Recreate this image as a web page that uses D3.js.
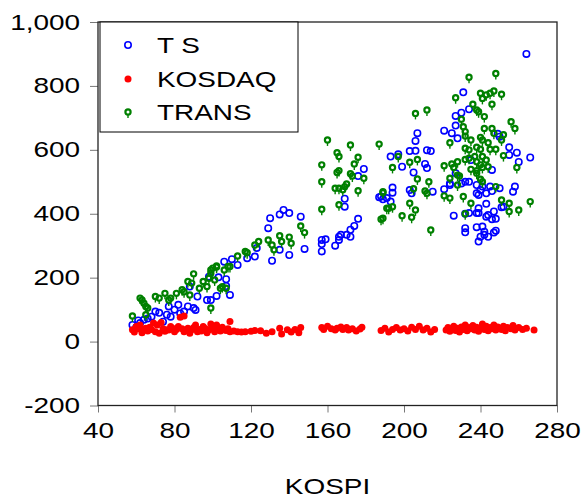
<!DOCTYPE html>
<html>
<head>
<meta charset="utf-8">
<script src="https://cdn.jsdelivr.net/npm/d3@7"></script>
<style>
  body { margin: 0; background: #fff; }
  text { font-family: "Liberation Sans", Arial, sans-serif; fill: #000; }
</style>
</head>
<body>
<div id="chart-area"></div>
<script>
// series names for legend
var seriesNames = ["T S", "KOSDAQ", "TRANS"];

// tick values
var xTicks = [40, 80, 120, 160, 200, 240, 280];
var yTicks = [-200, 0, 200, 400, 600, 800, 1000];

// [KOSPI, value]
var tsPoints = [
  [58,52],[61,66],[64,68],[62,58],[60,45],[66,72],[68,78],[70,94],[72,90],[74,62],[76,84],[77,110],
  [78,78],[80,100],[82,115],[83,88],[85,94],[87,110],[90,105],[91,99],[92,141],[88,172],[97,130],
  [99,130],[102,143],[98,203],[103,201],[107,195],[107,174],[109,146],[106,250],[110,258],[113,240],
  [118,261],[122,266],[123,293],[129,355],[130,386],[131,253],[135,287],[135,398],[137,412],[140,271],
  [140,402],[146,391],[148,290],
  [157,318],[159,320],[157,305],[157,282],[164,300],[166,328],[167,334],[170,334],[172,328],[172,350],
  [174,362],[176,384],[166,318],[169,447],[169,422],[179,540],[176,518],[187,452],[189,445],[193,579],
  [231,780],[234,727],[230,716],[227,706],[227,676],[221,660],[225,652],[228,636],[235,568],[207,652],
  [206,628],[203,596],[206,597],[212,599],[214,596],[197,586],[199,547],[211,556],[212,543],[205,529],
  [194,482],[194,466],[203,474],[204,464],[215,469],[188,454],[191,449],[193,438],[221,477],[224,495],
  [227,527],[232,500],[234,500],[238,490],[240,474],[241,485],[245,485],[250,480],[238,464],[239,459],
  [243,464],[246,471],[246,537],[250,641],[249,650],[255,608],[259,591],[255,584],[260,562],[266,576],
  [258,485],[257,469],[252,422],[251,420],[243,431],[239,417],[239,402],[238,402],[234,402],[232,400],
  [226,394],[244,396],[247,407],[248,384],[246,383],[243,391],[232,355],[232,342],[238,358],[241,360],
  [242,344],[242,334],[244,328],[240,328],[239,313],[247,341],[248,347],[224,490],[230,495],[264,900]
];

var kosdaqPoints = [
  [58,37],[60,47],[62,52],[64,37],[65,42],[69,58],[71,52],[73,60],[70,31],[72,26],[76,37],[78,47],
  [80,31],[83,76],[85,80],[82,47],[85,31],[88,26],[91,52],[92,31],[95,47],[97,28],[99,55],[102,52],
  [101,31],[106,37],[109,63],[109,31],[113,31],[117,31],[122,35],[128,26],[131,31],[135,42],[136,24],
  [139,37],[59,30],[61,40],[63,28],[66,33],[67,45],[68,38],[74,40],[75,32],[77,36],[79,42],[81,38],
  [84,40],[86,35],[87,42],[89,37],[90,44],[93,38],[94,33],[96,41],[98,36],[100,40],[103,38],[104,33],
  [105,45],[107,35],[108,40],[111,33],[115,30],[120,32],[125,34],
  [141,30],[143,38],[145,28],[146,44],
  [157,44],[158,38],[160,48],[162,40],[164,36],[165,42],[167,46],[168,38],[170,44],[171,36],[173,40],
  [175,33],[177,39],[178,45],
  [188,35],[190,42],[192,30],[194,38],[196,44],[198,36],[200,40],[202,33],[204,45],[206,38],[208,48],
  [210,36],[212,42],[214,30],[216,38],
  [222,36],[223,44],[224,32],[225,40],[226,48],[227,35],[228,42],[229,30],[230,46],[231,38],[232,52],
  [233,34],[234,44],[235,40],[236,50],[237,36],[238,45],[239,32],[240,42],[241,55],[242,38],[243,48],
  [244,34],[245,44],[246,40],[247,52],[248,36],[249,46],[250,42],[251,38],[252,48],[253,34],[254,44],
  [256,40],[257,50],[258,36],[260,44],[262,38],[264,42],[268,36]
];

var transPoints = [
  [58,80],[62,136],[63,130],[64,120],[65,110],[66,105],[65,84],[70,141],[72,136],[75,151],[77,130],
  [78,136],[81,151],[84,162],[85,156],[88,146],[87,188],[90,212],[89,183],[93,167],[95,188],[97,172],
  [98,198],[99,214],[101,193],[99,224],[100,230],[102,233],[104,167],[105,172],[107,167],[106,224],
  [108,235],[99,105],[102,237],[109,235],[113,268],[117,282],[118,278],[122,302],[124,313],[129,318],
  [131,302],[132,287],[135,331],[136,313],[140,327],[141,308],[146,362],[148,341],
  [157,414],[160,631],[157,553],[157,500],[165,591],[166,579],[172,615],[176,577],[174,556],[165,529],
  [166,535],[172,525],[173,518],[179,511],[164,480],[166,480],[168,475],[170,493],[169,485],[176,472],
  [166,428],[187,618],[189,469],[191,417],[189,386],
  [234,827],[248,839],[240,777],[243,772],[245,777],[247,784],[251,774],[241,761],[227,763],[236,743],
  [246,743],[206,714],[212,725],[238,725],[239,719],[242,704],[230,696],[231,672],[232,657],[232,643],
  [242,667],[246,667],[247,652],[252,647],[251,631],[256,688],[258,667],[224,622],[235,631],[240,639],
  [241,631],[244,622],[232,605],[234,600],[238,608],[240,602],[245,602],[248,602],[252,582],[234,574],
  [237,579],[241,579],[243,568],[238,563],[240,553],[241,545],[244,547],[228,563],[225,556],[221,550],
  [226,545],[232,570],[235,539],[238,535],[238,527],[259,545],[228,521],[229,518],[224,511],[228,490],
  [240,508],[248,485],[241,500],[213,500],[207,509],[211,471],[212,464],[205,478],[203,561],[194,545],
  [197,579],[207,570],[221,456],[224,449],[231,454],[235,433],[251,443],[255,433],[255,407],[260,412],
  [266,438],[232,400],[189,466],[188,383],[192,417],[194,422],[203,433],[206,412],[199,394],[204,389],
  [214,349]
];

// svg area and plot box
var svg_x = 581, svg_y = 499;
var margin = {left:98, right:24, top:22, bottom:93.5};
var width = svg_x - margin.left - margin.right;
var height = svg_y - margin.top - margin.bottom;
var stretch = 1.27; // the original text is drawn wide
var fontSize = 22;

var svg = d3.select("#chart-area")
  .append("svg")
    .attr("width", svg_x)
    .attr("height", svg_y);

var g = svg.append("g")
  .attr("transform", "translate(" + margin.left + "," + margin.top + ")");

// scales
var x = d3.scaleLinear().domain([40, 280]).range([0, width]);
var y = d3.scaleLinear().domain([-200, 1000]).range([height, 0]);

// axes
var xAxisCall = d3.axisBottom(x)
  .tickValues(xTicks)
  .tickSize(7)
  .tickSizeOuter(0)
  .tickPadding(10);
var xAxis = g.append("g")
  .attr("transform", "translate(0," + height + ")")
  .call(xAxisCall);
xAxis.select(".domain").remove();
xAxis.selectAll("line").attr("stroke", "#777");
xAxis.selectAll("text")
  .attr("font-size", fontSize)
  .attr("transform", "scale(" + stretch + ",1)");

var comma = d3.format(",");
var yAxisCall = d3.axisLeft(y)
  .tickValues(yTicks)
  .tickSize(8)
  .tickSizeOuter(0)
  .tickFormat(d => comma(d).replace("\u2212", "-"));
var yAxis = g.append("g").call(yAxisCall);
yAxis.select(".domain").remove();
yAxis.selectAll("line").attr("stroke", "#777");
yAxis.selectAll("text")
  .attr("font-size", fontSize)
  .attr("x", -18 / stretch)
  .attr("transform", "scale(" + stretch + ",1)");

// frame
g.append("rect")
  .attr("x", 0).attr("y", 0)
  .attr("width", width).attr("height", height)
  .attr("fill", "none")
  .attr("stroke", "#222")
  .attr("stroke-width", 1.3);

// markers
function drawTS(sel) {
  sel.append("circle").attr("r", 3.2)
    .attr("fill", "none").attr("stroke", "#0000ff").attr("stroke-width", 1.6);
}
function drawKosdaq(sel) {
  sel.append("circle").attr("r", 3.5).attr("fill", "#ff0000");
}
function drawTrans(sel) {
  sel.append("circle").attr("r", 2.6)
    .attr("fill", "none").attr("stroke", "#008000").attr("stroke-width", 2.2);
  sel.append("line").attr("x1", 0).attr("x2", 0).attr("y1", 2.5).attr("y2", 6)
    .attr("stroke", "#008000").attr("stroke-width", 1.4);
}

function plotSeries(data, drawer) {
  var pts = g.append("g").selectAll("g")
    .data(data)
    .enter().append("g")
      .attr("transform", d => "translate(" + x(d[0]) + "," + y(d[1]) + ")");
  drawer(pts);
}
plotSeries(tsPoints, drawTS);
plotSeries(kosdaqPoints, drawKosdaq);
plotSeries(transPoints, drawTrans);

// legend
var legend = svg.append("g").attr("transform", "translate(100,22)");
legend.append("rect")
  .attr("width", 198).attr("height", 110)
  .attr("fill", "#fff").attr("stroke", "#000").attr("stroke-width", 1);
var drawers = [drawTS, drawKosdaq, drawTrans];
var rowY = [23, 57, 90];
seriesNames.forEach((name, i) => {
  var row = legend.append("g").attr("transform", "translate(0," + rowY[i] + ")");
  var m = row.append("g").attr("transform", "translate(28,0)");
  drawers[i](m);
  row.append("text")
    .attr("transform", "translate(57,8) scale(" + stretch + ",1)")
    .attr("font-size", fontSize)
    .text(name);
});

// x label
svg.append("text")
  .attr("transform", "translate(" + (margin.left + width / 2) + ",494) scale(" + stretch + ",1)")
  .attr("text-anchor", "middle")
  .attr("font-size", fontSize)
  .text("KOSPI");
</script>
</body>
</html>
